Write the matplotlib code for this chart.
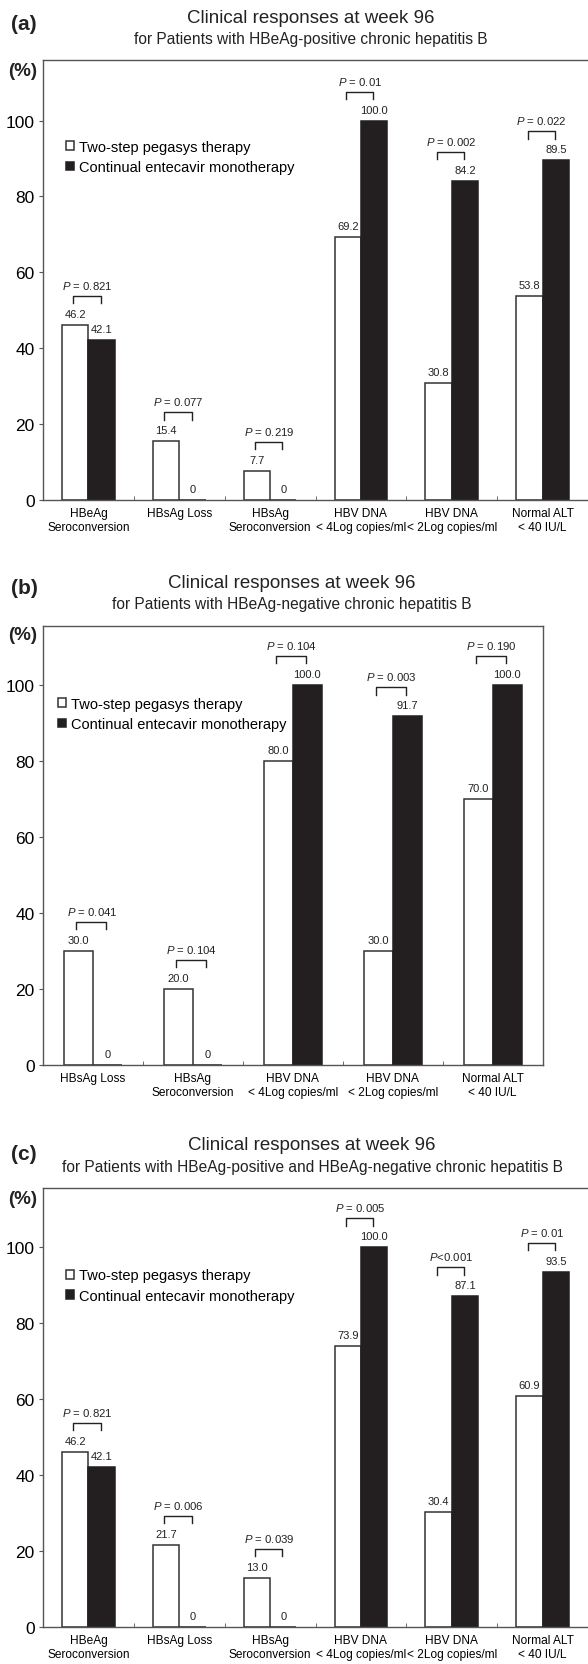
import numpy as np
import matplotlib
matplotlib.use("Agg")
import matplotlib.pyplot as plt

#%% --- Data ---

cats_6 = ["HBeAg\nSeroconversion", "HBsAg Loss", "HBsAg\nSeroconversion",
          "HBV DNA\n< 4Log copies/ml", "HBV DNA\n< 2Log copies/ml",
          "Normal ALT\n< 40 IU/L"]
cats_5 = ["HBsAg Loss", "HBsAg\nSeroconversion",
          "HBV DNA\n< 4Log copies/ml", "HBV DNA\n< 2Log copies/ml",
          "Normal ALT\n< 40 IU/L"]

a_pegasys = [46.2, 15.4, 7.7, 69.2, 30.8, 53.8]
a_entecavir = [42.1, 0, 0, 100.0, 84.2, 89.5]
a_pvals = ["= 0.821", "= 0.077", "= 0.219", "= 0.01", "= 0.002", "= 0.022"]

b_pegasys = [30.0, 20.0, 80.0, 30.0, 70.0]
b_entecavir = [0, 0, 100.0, 91.7, 100.0]
b_pvals = ["= 0.041", "= 0.104", "= 0.104", "= 0.003", "= 0.190"]

c_pegasys = [46.2, 21.7, 13.0, 73.9, 30.4, 60.9]
c_entecavir = [42.1, 0, 0, 100.0, 87.1, 93.5]
c_pvals = ["= 0.821", "= 0.006", "= 0.039", "= 0.005", "<0.001", "= 0.01"]

titles = ["Clinical responses at week 96"] * 3
subtitles = ["for Patients with HBeAg-positive chronic hepatitis B",
             "for Patients with HBeAg-negative chronic hepatitis B",
             "for Patients with HBeAg-positive and HBeAg-negative chronic hepatitis B"]
panel_tags = ["(a)", "(b)", "(c)"]
legend_labels = ["Two-step pegasys therapy", "Continual entecavir monotherapy"]

#%% --- Style ---

plt.rcParams["font.family"] = ["Liberation Sans", "DejaVu Sans"]
plt.rcParams["mathtext.fontset"] = "custom"
plt.rcParams["mathtext.rm"] = "Liberation Sans"
plt.rcParams["mathtext.it"] = "Liberation Sans:italic"

W, H = 588, 1665
DARK = "#231f20"
SPINE = "#555555"

fig = plt.figure(figsize=(W / 100, H / 100), dpi=100)


def px_axes(left, top, right, bottom):
    return fig.add_axes([left / W, 1 - bottom / H,
                         (right - left) / W, (bottom - top) / H])


def fig_text(x, y, s, **kw):
    fig.text(x / W, 1 - y / H, s, **kw)


def draw_panel(box, ytop, cats, pegasys, entecavir, pvals, right_spine,
               legend_xy):
    ax = px_axes(*box)
    n = len(cats)
    x = np.arange(n)
    w = 0.29
    ax_h_px = box[3] - box[1]
    u = ytop / ax_h_px  # data units per pixel

    b1 = ax.bar(x - w / 2, pegasys, w, color="white", edgecolor="#333333",
                linewidth=1.1, label=legend_labels[0], zorder=2)
    b2 = ax.bar(x + w / 2, entecavir, w, color=DARK, edgecolor=DARK,
                linewidth=1.1, label=legend_labels[1], zorder=2)

    # --- Value labels, brackets and P values ---
    for xi, v1, v2, p in zip(x, pegasys, entecavir, pvals):
        for xx, v in ((xi - w / 2, v1), (xi + w / 2, v2)):
            s = "0" if v == 0 else "{:.1f}".format(v)
            ax.text(xx, v + 11 * u, s, ha="center", va="center",
                    fontsize=8, color="#222222")
        top = max(v1, v2)
        yb = top + 29 * u
        ax.plot([xi - w / 2 - 0.02, xi - w / 2 - 0.02, xi + w / 2 - 0.01,
                 xi + w / 2 - 0.01],
                [yb - 7.5 * u, yb, yb, yb - 7.5 * u],
                color="#222222", linewidth=1.0, zorder=3)
        ax.text(xi - 0.01, top + 40 * u,
                "$P$" + (" " if p.startswith("=") else "") + p,
                ha="center", va="center", fontsize=8.2, color="#222222")

    ax.set_xlim(-0.5, n - 0.5)
    ax.set_ylim(0, ytop)
    ax.set_xticks(x)
    ax.set_xticklabels(cats, fontsize=8.6, linespacing=1.25)
    ax.set_xticks(np.arange(0.5, n - 0.5), minor=True)
    ax.tick_params(axis="x", which="major", length=0, pad=5)
    ax.tick_params(axis="x", which="minor", direction="in", length=3,
                   color=SPINE)
    ax.set_yticks([0, 20, 40, 60, 80, 100])
    ax.tick_params(axis="y", direction="out", length=3, color=SPINE,
                   labelsize=12.5, pad=3)

    for side in ["top", "left", "bottom", "right"]:
        ax.spines[side].set_color(SPINE)
        ax.spines[side].set_linewidth(1.0)
    ax.spines["right"].set_visible(right_spine)

    ax.legend(handles=[b1, b2], loc="upper left",
              bbox_to_anchor=(legend_xy[0] / W, 1 - legend_xy[1] / H),
              bbox_transform=fig.transFigure, frameon=False, fontsize=10.5,
              handlelength=0.55, handleheight=0.55, handletextpad=0.35,
              borderpad=0, borderaxespad=0, labelspacing=0.42)
    return ax


panels = [
    dict(box=(43, 61, 588, 500.7), ytop=116.0, cats=cats_6,
         pegasys=a_pegasys, entecavir=a_entecavir, pvals=a_pvals,
         right_spine=False, legend_xy=(66, 141), head=(18.3, 39.3, 25, 71.7),
         tx=311),
    dict(box=(43, 627.3, 542.6, 1066), ytop=115.4, cats=cats_5,
         pegasys=b_pegasys, entecavir=b_entecavir, pvals=b_pvals,
         right_spine=True, legend_xy=(58, 698),
         head=(583.3, 604, 588.3, 636), tx=292),
    dict(box=(43, 1189.3, 588, 1628.3), ytop=115.5, cats=cats_6,
         pegasys=c_pegasys, entecavir=c_entecavir, pvals=c_pvals,
         right_spine=False, legend_xy=(66, 1269.5),
         head=(1146, 1167.3, 1155, 1199.3), tx=312),
]

for i, pnl in enumerate(panels):
    draw_panel(pnl["box"], pnl["ytop"], pnl["cats"], pnl["pegasys"],
               pnl["entecavir"], pnl["pvals"], pnl["right_spine"],
               pnl["legend_xy"])
    ty, sy, tagy, pcy = pnl["head"]
    fig_text(pnl["tx"], ty, titles[i], ha="center", va="center",
             fontsize=13.5, color="#222222")
    fig_text(pnl["tx"], sy, subtitles[i], ha="center", va="center",
             fontsize=11.2, color="#222222")
    fig_text(24, tagy, panel_tags[i], ha="center", va="center",
             fontsize=15, fontweight="bold", color="#222222")
    fig_text(23, pcy, "(%)", ha="center", va="center",
             fontsize=13.5, fontweight="bold", color="#222222")

fig.savefig("out.png", dpi=100)
